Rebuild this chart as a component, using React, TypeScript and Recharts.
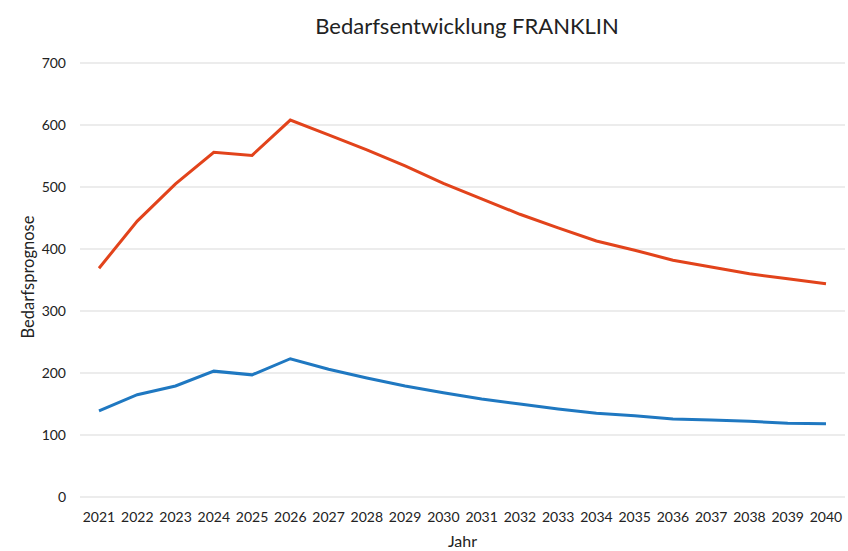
import React from 'react';
import { LineChart, Line, XAxis, YAxis, CartesianGrid } from 'recharts';

const years = ['2021','2022','2023','2024','2025','2026','2027','2028','2029','2030','2031','2032','2033','2034','2035','2036','2037','2038','2039','2040'];
const orangeValues = [369, 445, 505, 556, 551, 608, 584, 560, 534, 506, 481, 456, 434, 413, 398, 382, 371, 360, 352, 344];
const blueValues = [139, 165, 179, 203, 197, 223, 206, 192, 179, 168, 158, 150, 142, 135, 131, 126, 124, 122, 119, 118];
const yTicks = [0, 100, 200, 300, 400, 500, 600, 700];

const data = years.map((y, i) => ({ year: y, orange: orangeValues[i], blue: blueValues[i] }));

const FONT = 'Lato, "Open Sans", sans-serif';

export default function App() {
  return (
    <div style={{ position: 'absolute', left: 0, top: 0, width: 848, height: 551, background: '#fff' }}>
      <div style={{ position: 'absolute', left: 0, width: 934, top: 12, textAlign: 'center', fontFamily: FONT, fontSize: 22, color: '#222' }}>
        Bedarfsentwicklung FRANKLIN
      </div>
      <LineChart width={848} height={551} data={data} margin={{ top: 63, right: 3, left: 0, bottom: 0 }}>
        <CartesianGrid vertical={false} stroke="#d9d9d9" strokeWidth={1} />
        <XAxis
          dataKey="year"
          axisLine={false}
          tickLine={false}
          height={54}
          padding={{ left: 19, right: 19 }}
          interval={0}
          tickMargin={9}
          tick={{ fill: '#222', fontSize: 14, fontFamily: FONT }}
          label={{ value: 'Jahr', position: 'insideBottom', offset: 4, fill: '#222', fontSize: 16, fontFamily: FONT }}
        />
        <YAxis
          width={80}
          domain={[0, 700]}
          ticks={yTicks}
          axisLine={false}
          tickLine={false}
          tickMargin={8}
          tick={{ fill: '#222', fontSize: 14, fontFamily: FONT }}
          label={{ value: 'Bedarfsprognose', angle: -90, position: 'insideLeft', offset: 28, dy: -3, style: { textAnchor: 'middle' }, fill: '#222', fontSize: 16.5, fontFamily: FONT }}
        />
        <Line type="linear" dataKey="orange" stroke="#E2431B" strokeWidth={3} dot={false} isAnimationActive={false} />
        <Line type="linear" dataKey="blue" stroke="#1F78C1" strokeWidth={3} dot={false} isAnimationActive={false} />
      </LineChart>
    </div>
  );
}
